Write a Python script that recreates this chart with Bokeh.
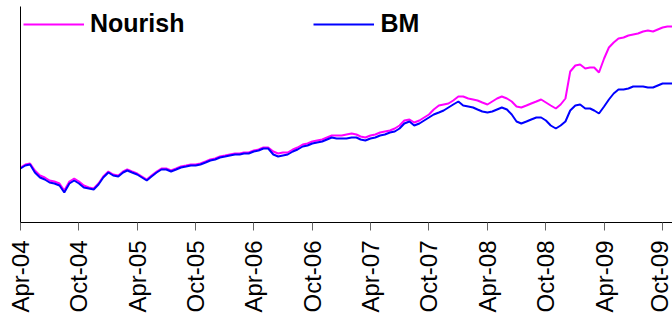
from datetime import datetime
import math
import pandas as pd
from bokeh.plotting import figure
from bokeh.models import (Range1d, FixedTicker, DatetimeTickFormatter, Legend,
                          LegendItem, ColumnDataSource)
from bokeh.embed import file_html
from bokeh.resources import INLINE

# ---- data (semi-monthly readings, index levels) ----
first_date = "2004-04-01"
last_date = "2009-11-01"

bm = [100, 103, 104, 96, 91, 89, 86, 85, 83, 76,
      85, 88, 85, 81, 80, 79, 84, 91, 96, 93,
      92, 96, 98, 96, 94, 91, 88, 92, 96, 99,
      99, 97, 99, 101, 102, 103, 103, 104, 106, 108,
      109, 111, 112, 113, 114, 114, 115, 115, 117, 118,
      120, 120, 114, 112, 113, 114, 117, 119, 122, 123,
      125, 126, 127, 129, 131, 130, 130, 130, 131, 131,
      129, 128, 130, 131, 133, 134, 136, 137, 140, 145,
      147, 143, 145, 148, 151, 154, 156, 158, 161, 164,
      167, 163, 162, 161, 159, 157, 156, 157, 159, 161,
      159, 154, 147, 145, 147, 149, 151, 151, 148, 143,
      140, 143, 147, 158, 163, 164, 160, 160, 158, 155,
      162, 169, 175, 179, 179, 180, 182, 182, 182, 181,
      181, 183, 185, 185, 185]

nourish = [101, 104, 105, 98, 93, 91, 88, 87, 85, 78,
           87, 90, 87, 83, 81, 80, 85, 92, 97, 94,
           93, 97, 99, 97, 95, 92, 89, 93, 97, 100,
           100, 98, 100, 102, 103, 104, 104, 105, 107, 109,
           110, 112, 113, 114, 115, 115, 116, 116, 118, 119,
           121, 121, 117, 115, 116, 116, 119, 121, 124, 125,
           127, 128, 129, 131, 133, 133, 133, 134, 135, 134,
           132, 131, 133, 134, 136, 137, 138, 140, 143, 148,
           149, 146, 148, 151, 154, 159, 163, 164, 165, 168,
           172, 172, 170, 169, 168, 166, 164, 167, 170, 172,
           170, 167, 162, 161, 163, 165, 167, 169, 166, 163,
           160, 164, 170, 197, 203, 204, 200, 201, 201, 196,
           210, 221, 226, 230, 231, 233, 234, 235, 237, 238,
           237, 239, 241, 242, 242]

tick_dates = ["2004-04-01", "2004-10-01", "2005-04-01", "2005-10-01",
              "2006-04-01", "2006-10-01", "2007-04-01", "2007-10-01",
              "2008-04-01", "2008-10-01", "2009-04-01", "2009-10-01"]
tick_labels = ["Apr-04", "Oct-04", "Apr-05", "Oct-05", "Apr-06", "Oct-06",
               "Apr-07", "Oct-07", "Apr-08", "Oct-08", "Apr-09", "Oct-09"]

series_names = ["Nourish", "BM"]

# semi-monthly dates: 1st and 16th of each month
dates = []
for m in pd.date_range(first_date, last_date, freq="MS"):
    dates.append(m)
    dates.append(m + pd.Timedelta(days=15))
dates = dates[:len(bm)]

source = ColumnDataSource(dict(date=dates, bm=bm, nourish=nourish))

p = figure(width=672, height=320, output_backend="svg", toolbar_location=None,
           x_axis_type="datetime",
           x_range=Range1d(pd.Timestamp(first_date), pd.Timestamp(last_date)),
           y_range=Range1d(46, 262),
           min_border_left=20, min_border_right=0, min_border_top=6,
           min_border_bottom=98)
p.outline_line_color = None
p.grid.visible = False
p.background_fill_color = "white"
p.border_fill_color = "white"

r_n = p.line("date", "nourish", source=source, line_color="#FF00FF", line_width=2)
r_b = p.line("date", "bm", source=source, line_color="#0000FF", line_width=2)

tick_ms = [pd.Timestamp(d).value / 1e6 for d in tick_dates]
xa = p.xaxis[0]
xa.ticker = FixedTicker(ticks=tick_ms)
xa.formatter = DatetimeTickFormatter(days="%b-%y", months="%b-%y", years="%b-%y",
                                     hours="%b-%y", minutes="%b-%y")
xa.major_label_overrides = {t: lab for t, lab in zip(tick_ms, tick_labels)}
xa.major_label_orientation = math.pi / 2
xa.major_label_text_font = "Liberation Sans"
xa.major_label_text_font_size = "24px"
xa.major_label_text_color = "black"
xa.major_label_standoff = 10
xa.major_tick_out = 8
xa.major_tick_in = 0
xa.major_tick_line_color = "#666666"
xa.minor_tick_line_color = None
xa.axis_line_color = "black"

ya = p.yaxis[0]
ya.ticker = FixedTicker(ticks=[])
ya.major_tick_line_color = None
ya.minor_tick_line_color = None
ya.major_label_text_font_size = "0px"
ya.axis_line_color = "black"

legend = Legend(items=[LegendItem(label=series_names[0], renderers=[r_n]),
                       LegendItem(label=series_names[1], renderers=[r_b])],
                location="top_left", orientation="horizontal",
                label_text_font="Liberation Sans", label_text_font_size="25px",
                label_text_font_style="bold", label_text_color="black",
                glyph_width=61, glyph_height=24, label_standoff=6, spacing=129,
                padding=0, margin=3, border_line_color=None,
                background_fill_alpha=0)
p.add_layout(legend, "center")

open("out.html", "w").write(file_html(p, INLINE))
